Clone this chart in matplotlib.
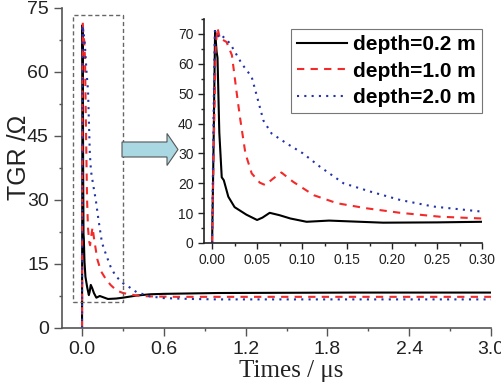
import matplotlib
matplotlib.use("Agg")
import matplotlib.pyplot as plt
from matplotlib.patches import Rectangle, FancyArrow
from matplotlib.ticker import MultipleLocator

# datos (tiempo en us, TGR en ohm)
t_02 = [0, 0.0015, 0.0033, 0.005, 0.006, 0.008, 0.0107, 0.013, 0.018, 0.025, 0.038,
        0.05, 0.056, 0.064, 0.075, 0.087, 0.105, 0.13, 0.19, 0.25, 0.3, 0.4, 0.5,
        0.6, 0.8, 1.0, 1.5, 2.0, 2.5, 3.0]
tgr_02 = [0, 30, 71, 64, 62, 37, 22, 21, 15.5, 12, 9.5,
          7.7, 8.5, 10.1, 9.3, 8.2, 7.1, 7.5, 6.8, 6.9, 7.1, 7.6, 7.9,
          8.0, 8.1, 8.2, 8.25, 8.3, 8.3, 8.3]

t_10 = [0, 0.002, 0.004, 0.006, 0.009, 0.012, 0.016, 0.022, 0.027, 0.031, 0.037,
        0.044, 0.053, 0.059, 0.068, 0.077, 0.09, 0.113, 0.139, 0.172, 0.209, 0.253,
        0.3, 0.35, 0.4, 0.5, 0.7, 1.0, 2.0, 3.0]
tgr_10 = [0, 35, 66, 72, 68, 68, 67.3, 62.9, 51, 42, 30,
          23.3, 20.2, 19.4, 21.6, 23.6, 20.5, 16, 13.3, 11.6, 10.1, 8.8,
          8.2, 7.9, 7.6, 7.4, 7.3, 7.3, 7.3, 7.3]

t_20 = [0, 0.0015, 0.003, 0.006, 0.009, 0.02, 0.033, 0.044, 0.051, 0.057, 0.066,
        0.083, 0.101, 0.12, 0.146, 0.176, 0.209, 0.246, 0.3, 0.35, 0.4, 0.5,
        0.6, 0.8, 1.0, 2.0, 3.0]
tgr_20 = [0, 40, 71, 69, 70, 66.8, 60, 55.6, 47.8, 41, 36.7,
          33.3, 30, 25.5, 20, 17.2, 14.4, 12.2, 10.5, 9.5, 8.4, 7.4,
          7.0, 6.8, 6.7, 6.7, 6.7]

etiquetas = ["depth=0.2 m", "depth=1.0 m", "depth=2.0 m"]

plt.rcParams['font.family'] = ['Liberation Sans', 'DejaVu Sans']

fig = plt.figure(figsize=(5.02, 3.86), dpi=100)


def dibujar_curvas(ax):
    l1, = ax.plot(t_02, tgr_02, color='black', lw=1.5, ls='-')
    l2, = ax.plot(t_10, tgr_10, color='#f42a2a', lw=1.5, ls=(0, (3.5, 3)))
    l3, = ax.plot(t_20, tgr_20, color='#2433a8', lw=1.5, ls=(0, (1, 2.5)))
    return [l1, l2, l3]


def estilo_ejes(ax, color, tam):
    for lado in ['top', 'right']:
        ax.spines[lado].set_visible(False)
    for lado in ['left', 'bottom']:
        ax.spines[lado].set_color(color)
        ax.spines[lado].set_linewidth(1.2)
    ax.tick_params(which='both', direction='out', colors=color, labelcolor='#222222',
                   labelsize=tam, width=1.0)
    ax.tick_params(which='major', length=5)
    ax.tick_params(which='minor', length=2.5)
    ax.set_facecolor('none')


# ejes principales
ax = fig.add_axes([0.1235, 0.1503, 0.8546, 0.829])
dibujar_curvas(ax)
ax.set_xlim(-0.147, 3.0)
ax.set_ylim(0, 75)
ax.xaxis.set_major_locator(MultipleLocator(0.6))
ax.xaxis.set_minor_locator(MultipleLocator(0.3))
ax.yaxis.set_major_locator(MultipleLocator(15))
ax.yaxis.set_minor_locator(MultipleLocator(7.5))
ax.set_xticks([0.0, 0.6, 1.2, 1.8, 2.4, 3.0], ["0.0", "0.6", "1.2", "1.8", "2.4", "3.0"])
estilo_ejes(ax, '#555555', 14)
ax.tick_params(which='major', length=6)
ax.set_ylabel("TGR /\u03a9", fontsize=18, color='#222222')
ax.yaxis.set_label_coords(-0.072, 0.534)
ax.set_xlabel("Times / \u03bcs", fontsize=18, family='Liberation Serif', color='#222222')
ax.xaxis.set_label_coords(0.534, -0.10)

# recuadro de zoom
ax.add_patch(Rectangle((-0.066, 6.1), 0.366, 67.3, fill=False, ec='#666666',
                       lw=1.0, ls=(0, (3, 2)), zorder=5))

# flecha
fig.add_artist(FancyArrow(1.22, 3.86 - 1.495, 0.56, 0, width=0.15, head_width=0.32,
                          head_length=0.11, length_includes_head=True,
                          fc='#a9d8e2', ec='#555555', lw=0.8,
                          transform=fig.dpi_scale_trans))

# ejes del detalle
axi = fig.add_axes([0.4064, 0.3705, 0.5538, 0.5803])
lineas = dibujar_curvas(axi)
axi.set_xlim(-0.009, 0.30)
axi.set_ylim(0, 75)
axi.xaxis.set_major_locator(MultipleLocator(0.05))
axi.xaxis.set_minor_locator(MultipleLocator(0.025))
axi.yaxis.set_major_locator(MultipleLocator(10))
axi.yaxis.set_minor_locator(MultipleLocator(5))
axi.set_xticks([0, 0.05, 0.1, 0.15, 0.2, 0.25, 0.3],
               ["0.00", "0.05", "0.10", "0.15", "0.20", "0.25", "0.30"])
estilo_ejes(axi, '#222222', 10)
axi.tick_params(which='major', length=4)
axi.tick_params(which='minor', length=2)

leg = axi.legend(lineas, etiquetas, loc='upper right', bbox_to_anchor=(1.0, 0.955),
                 prop={'weight': 'bold', 'size': 15}, handlelength=2.4,
                 handletextpad=0.3, labelspacing=0.35, borderpad=0.3,
                 borderaxespad=0.0, fancybox=False, framealpha=1)
leg.get_frame().set_edgecolor('#777777')
leg.get_frame().set_linewidth(0.8)

fig.savefig("out.png", dpi=100)
